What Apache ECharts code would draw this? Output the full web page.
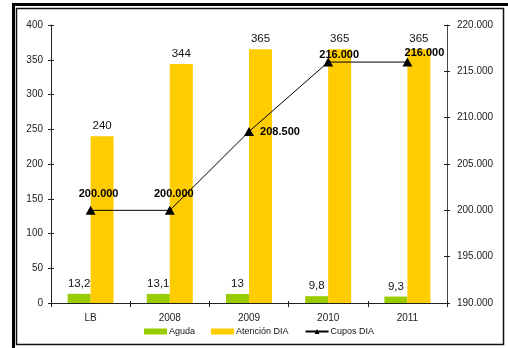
<!DOCTYPE html>
<html><head><meta charset="utf-8">
<script src="https://cdn.jsdelivr.net/npm/echarts@6/dist/echarts.min.js"></script>
<style>html,body{margin:0;padding:0;background:#fff}#c{width:508px;height:348px}</style>
</head><body><div id="c"></div>
<script>
const categories = ['LB', '2008', '2009', '2010', '2011'];
const aguda = [13.2, 13.1, 13, 9.8, 9.3];
const atencionDia = [240, 344, 365, 365, 365];
const cuposDia = [200000, 200000, 208500, 216000, 216000];
const leftTicks = [0, 400, 50];
const rightTicks = [190000, 220000, 5000];

const cuposLabelOffsets = [[8, -16], [4, -16], [31, 0], [11, -7], [17, -9]];

const fmtThousands = v => String(Math.round(v)).replace(/\B(?=(\d{3})+(?!\d))/g, '.');
const fmtDec = v => String(v).replace('.', ',');
const FONT = 'Liberation Sans, Arial, sans-serif';

const chart = echarts.init(document.getElementById('c'), null, {renderer: 'canvas'});
const gridPos = {left: 51, right: 61, top: 25, bottom: 45};
const axisLine = {show: true, lineStyle: {color: '#222', width: 1}};
chart.setOption({
  animation: false,
  textStyle: {fontFamily: FONT},
  graphic: [
    {type: 'rect', shape: {x: 12, y: 3, width: 600, height: 3}, style: {fill: '#000'}},
    {type: 'rect', shape: {x: 12, y: 3, width: 3, height: 400}, style: {fill: '#000'}},
    {type: 'rect', shape: {x: 16.5, y: 8.5, width: 487, height: 336}, style: {fill: 'none', stroke: '#111', lineWidth: 1.5}}
  ],
  grid: gridPos,
  legend: {
    left: 144, top: 327, padding: 0, itemGap: 16, itemWidth: 23, itemHeight: 6,
    textStyle: {fontSize: 9, color: '#111', fontFamily: FONT, padding: [0, 0, 0, -3]},
    data: [
      {name: 'Aguda', icon: 'rect'},
      {name: 'Atención DIA', icon: 'rect'},
      {name: 'Cupos DIA'}
    ]
  },
  xAxis: [
    {type: 'category', data: categories, axisLine: axisLine,
     axisTick: {show: true, length: 4, lineStyle: {color: '#222'}},
     axisLabel: {color: '#222', fontSize: 10, margin: 10, fontFamily: FONT}},
    {type: 'category', data: categories, position: 'bottom', axisLine: {show: false},
     axisTick: {show: true, inside: true, length: 2, lineStyle: {color: '#222'}},
     axisLabel: {show: false}}
  ],
  yAxis: [
    {type: 'value', min: leftTicks[0], max: leftTicks[1], interval: leftTicks[2], position: 'left',
     axisLine: axisLine, splitLine: {show: false},
     axisTick: {show: true, length: 3, lineStyle: {color: '#222'}},
     axisLabel: {color: '#222', fontSize: 10, margin: 8, fontFamily: FONT}},
    {type: 'value', min: rightTicks[0], max: rightTicks[1], interval: rightTicks[2], position: 'right',
     axisLine: {show: true, lineStyle: {color: '#444', width: 1}}, splitLine: {show: false},
     axisTick: {show: true, length: 3, lineStyle: {color: '#222'}},
     axisLabel: {color: '#222', fontSize: 10, margin: 10, fontFamily: FONT, formatter: fmtThousands}},
    {type: 'value', min: leftTicks[0], max: leftTicks[1], interval: leftTicks[2], position: 'left',
     axisLine: {show: false}, splitLine: {show: false},
     axisTick: {show: true, inside: true, length: 3, lineStyle: {color: '#222'}}, axisLabel: {show: false}},
    {type: 'value', min: rightTicks[0], max: rightTicks[1], interval: rightTicks[2], position: 'right',
     axisLine: {show: false}, splitLine: {show: false},
     axisTick: {show: true, inside: true, length: 3, lineStyle: {color: '#222'}}, axisLabel: {show: false}}
  ],
  series: [
    {name: 'Aguda', type: 'bar', data: aguda, barWidth: 23, barGap: '0%', yAxisIndex: 0,
     itemStyle: {color: '#99CC00'},
     label: {show: true, position: 'top', distance: 4, fontSize: 11.5, color: '#111', fontFamily: FONT, formatter: p => fmtDec(p.value)}},
    {name: 'Atención DIA', type: 'bar', data: atencionDia, barWidth: 23, barGap: '0%', yAxisIndex: 0,
     itemStyle: {color: '#FFCC00'},
     label: {show: true, position: 'top', distance: 4, fontSize: 11.5, color: '#111', fontFamily: FONT}},
    {name: 'Cupos DIA', type: 'line', yAxisIndex: 1, z: 5,
     data: cuposDia.map((v, i) => ({value: v, label: {offset: cuposLabelOffsets[i]}})),
     symbol: 'triangle', symbolSize: [10, 9],
     lineStyle: {color: '#000', width: 1}, itemStyle: {color: '#000'},
     label: {show: true, position: 'inside', fontSize: 11, fontWeight: 'bold', color: '#000', fontFamily: FONT,
             formatter: p => fmtThousands(p.value)}}
  ]
});
</script></body></html>
